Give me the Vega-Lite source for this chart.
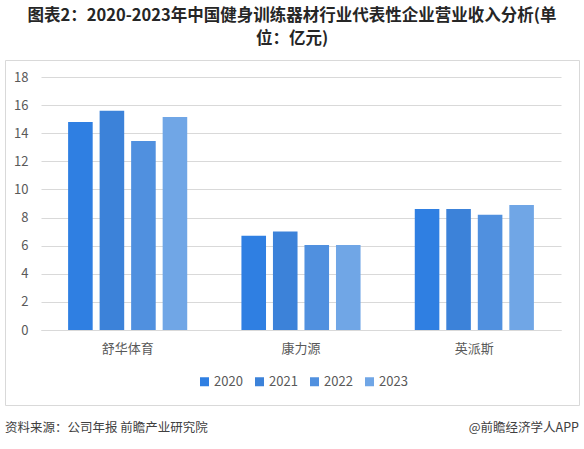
{
  "$schema": "https://vega.github.io/schema/vega-lite/v6.json",
  "background": "white",
  "padding": {"left": 4, "top": 8, "right": 4, "bottom": 4},
  "title": {
    "text": ["图表2：2020-2023年中国健身训练器材行业代表性企业营业收入分析(单", "位：亿元)"],
    "anchor": "middle",
    "fontSize": 16.5,
    "fontWeight": "bold",
    "lineHeight": 23,
    "color": "#262626",
    "offset": 12
  },
  "spacing": 12,
  "vconcat": [
    {
      "width": 574,
      "height": 345,
      "view": {"stroke": "#d9d9d9", "strokeWidth": 1},
      "data": {
        "values": [
          {"company": "舒华体育", "year": "2020", "value": 14.8},
          {"company": "舒华体育", "year": "2021", "value": 15.6},
          {"company": "舒华体育", "year": "2022", "value": 13.45},
          {"company": "舒华体育", "year": "2023", "value": 15.15},
          {"company": "康力源", "year": "2020", "value": 6.7},
          {"company": "康力源", "year": "2021", "value": 7.0},
          {"company": "康力源", "year": "2022", "value": 6.05},
          {"company": "康力源", "year": "2023", "value": 6.05},
          {"company": "英派斯", "year": "2020", "value": 8.6},
          {"company": "英派斯", "year": "2021", "value": 8.6},
          {"company": "英派斯", "year": "2022", "value": 8.2},
          {"company": "英派斯", "year": "2023", "value": 8.9}
        ]
      },
      "mark": "bar",
      "encoding": {
        "x": {
          "field": "company",
          "type": "nominal",
          "sort": ["舒华体育", "康力源", "英派斯"],
          "scale": {"range": [36, 556], "paddingInner": 0, "paddingOuter": 0},
          "axis": {
            "title": null,
            "offset": -75,
            "labelAngle": 0,
            "ticks": false,
            "tickSize": 0,
            "labelPadding": 12,
            "domainColor": "#d9d9d9",
            "labelFontSize": 13,
            "labelColor": "#595959"
          }
        },
        "xOffset": {
          "field": "year",
          "type": "nominal",
          "scale": {"paddingInner": 0.22, "paddingOuter": 0.86}
        },
        "y": {
          "field": "value",
          "type": "quantitative",
          "scale": {"domain": [0, 18], "range": [270, 17], "nice": false},
          "axis": {
            "title": null,
            "offset": -23,
            "values": [0, 2, 4, 6, 8, 10, 12, 14, 16, 18],
            "domain": false,
            "ticks": false,
            "tickSize": 0,
            "labelPadding": 0,
            "gridColor": "#d9d9d9",
            "labelFontSize": 13,
            "labelColor": "#595959"
          }
        },
        "color": {
          "field": "year",
          "type": "nominal",
          "scale": {
            "domain": ["2020", "2021", "2022", "2023"],
            "range": ["#2f7fe2", "#3c82d9", "#5090df", "#70a6e6"]
          },
          "legend": {
            "title": null,
            "orient": "none",
            "direction": "horizontal",
            "legendX": 193,
            "legendY": 315,
            "padding": 0,
            "symbolType": "square",
            "symbolSize": 81,
            "symbolStrokeWidth": 0,
            "labelOffset": 3,
            "columnPadding": 10,
            "labelFontSize": 13,
            "labelColor": "#595959"
          }
        }
      }
    },
    {
      "width": 574,
      "height": 20,
      "data": {
        "values": [
          {"pos": "L", "text": "资料来源：公司年报 前瞻产业研究院"},
          {"pos": "R", "text": "@前瞻经济学人APP"}
        ]
      },
      "layer": [
        {
          "transform": [{"filter": "datum.pos === 'L'"}],
          "mark": {"type": "text", "align": "left", "baseline": "middle", "fontSize": 12.5, "color": "#404040"},
          "encoding": {
            "x": {"field": "pos", "type": "nominal", "scale": {"type": "point", "domain": ["L", "R"], "padding": 0}, "axis": null},
            "text": {"field": "text"}
          }
        },
        {
          "transform": [{"filter": "datum.pos === 'R'"}],
          "mark": {"type": "text", "align": "right", "baseline": "middle", "fontSize": 12.5, "color": "#404040"},
          "encoding": {
            "x": {"field": "pos", "type": "nominal", "scale": {"type": "point", "domain": ["L", "R"], "padding": 0}, "axis": null},
            "text": {"field": "text"}
          }
        }
      ]
    }
  ],
  "config": {
    "font": "Noto Sans CJK SC",
    "view": {"stroke": null}
  }
}
